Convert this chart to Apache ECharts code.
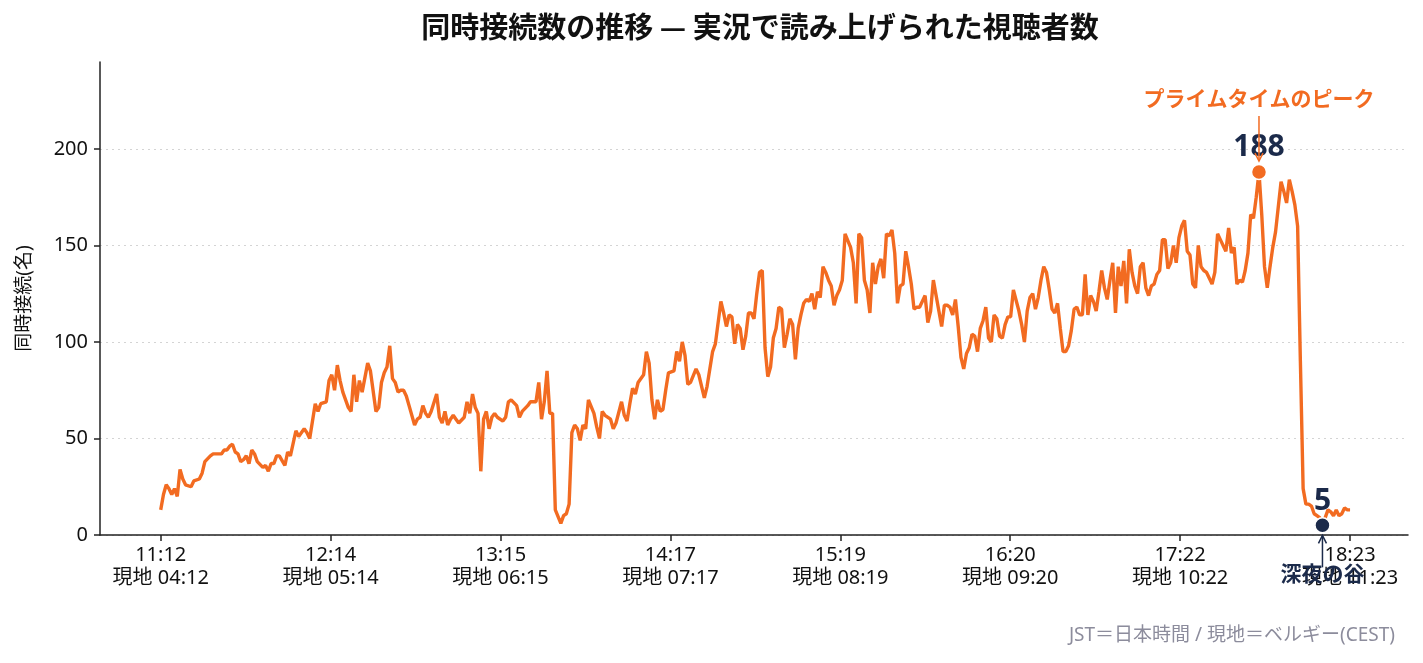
<!DOCTYPE html>
<html style="height: 100%">
<head>
<meta charset="utf-8">
<script src="https://cdn.jsdelivr.net/npm/echarts@6/dist/echarts.min.js"></script>
</head>
<body style="height: 100%; margin: 0; background: #fff">
<div id="container" style="width: 1423px; height: 663px"></div>
<script type="text/javascript">
// elapsed minutes since 11:12 JST
var minutes = [
	0,1,2,3,4,5,6,7,8,9,
	11,12,14,15,16,18,19,22,23,24,
	25,26,27,28,29,30,31,32,33,34,
	35,37,38,39,40,41,42,43,45,46,
	47,49,50,52,53,54,56,57,58,60,
	61,62,63,64,65,66,68,69,70,71,
	72,73,75,76,78,79,80,81,82,83,
	84,85,86,87,88,89,90,92,93,94,
	95,96,97,98,100,101,102,103,104,105,
	106,107,108,110,111,112,113,114,115,116,
	117,118,119,120,121,122,124,125,126,127,
	129,130,131,133,134,136,137,138,139,140,
	141,142,143,145,146,147,148,149,150,151,
	152,153,154,155,157,158,159,160,161,163,
	164,165,167,168,169,170,171,172,173,175,
	176,177,178,179,180,181,182,183,184,186,
	187,188,189,190,191,192,194,195,197,198,
	200,201,203,204,205,206,207,208,209,210,
	211,212,213,214,215,216,217,218,219,220,
	221,222,223,224,225,226,227,228,229,230,
	231,232,233,234,235,236,237,238,239,240,
	241,242,243,244,245,246,247,248,250,251,
	252,253,254,255,256,257,258,259,260,261,
	262,263,264,265,266,267,268,269,270,271,
	272,273,274,275,277,278,279,280,281,282,
	283,284,285,286,287,288,289,290,291,292,
	293,294,295,296,297,298,299,300,301,302,
	303,304,305,306,307,308,309,311,312,313,
	314,315,316,317,318,319,320,321,322,323,
	324,325,326,327,328,329,330,331,332,333,
	334,335,336,337,338,339,340,341,342,343,
	344,345,346,347,348,349,350,351,352,353,
	354,355,356,357,358,359,360,361,362,363,
	364,365,366,367,368,369,370,371,372,373,
	374,375,376,377,378,379,380,381,382,383,
	384,385,386,387,388,389,390,391,392,393,
	394,395,396,397,398,399,400,401,402,403,
	404,405,406,407,408,409,410,411,412,413,
	414,415,416,417,418,419,420,421,422,423,
	424,425,426,427,428,429,430,431
];
// concurrent viewers
var viewers = [
	13,21,26,24,21,24,20,34,29,26,
	25,28,29,32,38,41,42,42,44,44,
	46,47,43,42,38,39,41,37,44,42,
	38,35,36,33,37,37,41,41,36,43,
	41,54,51,55,53,50,68,64,68,69,
	80,83,75,88,80,74,66,64,83,69,
	80,74,89,85,64,66,79,84,87,98,
	81,79,74,75,75,72,67,57,60,61,
	67,63,61,64,73,61,58,64,57,60,
	62,60,58,61,69,63,73,66,63,33,
	60,64,55,61,63,61,59,61,69,70,
	67,61,64,67,69,69,79,60,69,85,
	63,63,13,6,10,11,16,53,57,55,
	49,57,55,70,63,56,50,64,62,60,
	55,58,69,62,59,68,76,73,79,83,
	95,89,70,60,70,64,65,75,84,85,
	95,90,100,93,78,79,86,83,71,77,
	95,99,121,115,108,114,113,99,109,107,
	96,103,115,115,112,125,136,137,97,82,
	87,102,107,118,117,97,104,112,109,91,
	107,114,120,122,121,125,117,126,123,139,
	136,132,129,119,124,127,132,156,149,141,
	120,156,154,132,127,115,141,130,139,143,
	133,156,155,158,146,120,129,130,147,139,
	130,117,118,118,124,110,116,132,124,116,
	108,119,119,118,114,122,108,92,86,94,
	97,104,103,95,107,111,118,102,100,114,
	112,103,102,109,113,113,127,116,109,100,
	116,123,125,117,123,132,139,136,127,117,
	115,120,107,95,95,98,106,117,118,114,
	114,135,114,124,121,116,126,137,128,122,
	132,141,115,139,129,142,120,148,136,129,
	125,139,141,128,124,129,130,135,137,153,
	153,138,141,150,141,154,160,163,147,145,
	130,128,150,139,137,136,133,130,136,156,
	153,150,147,159,146,149,130,132,131,137,
	146,166,164,175,188,166,139,128,139,149,
	157,170,183,178,172,184,178,171,160,90,
	24,16,16,15,11,10,9,5,9,13,
	12,10,13,10,11,14,13,13
];
var tickMinutes = [0, 61.57, 123.14, 184.71, 246.29, 307.86, 369.43, 431];
var jstLabels = ['11:12', '12:14', '13:15', '14:17', '15:19', '16:20', '17:22', '18:23'];
var localLabels = ['04:12', '05:14', '06:15', '07:17', '08:19', '09:20', '10:22', '11:23'];
var yTicks = [0, 50, 100, 150, 200];
var peakPoint = [398, 188];
var valleyPoint = [421, 5];

var ORANGE = '#F26B21';
var NAVY = '#1B2A4A';
var FONT = '"Noto Sans CJK JP", "Noto Sans", sans-serif';
var FONT_LATIN = '"Noto Sans", "Noto Sans CJK JP", sans-serif';

var dom = document.getElementById("container");
var myChart = echarts.init(dom);

var option = {
	backgroundColor: '#ffffff',
	animation: false,
	textStyle: { fontFamily: FONT_LATIN },
	title: {
		text: '同時接続数の推移 — 実況で読み上げられた視聴者数',
		left: 755,
		top: 7,
		textAlign: 'center',
		textStyle: { fontSize: 29, fontWeight: 'bold', color: '#111', fontFamily: FONT }
	},
	grid: { left: 100, right: 15, top: 62, bottom: 128 },
	xAxis: {
		type: 'value',
		min: -22,
		max: 452,
		splitLine: { show: false },
		axisLine: { show: true, lineStyle: { color: '#222', width: 1.5 } },
		axisTick: { show: true, customValues: tickMinutes, length: 6, lineStyle: { color: '#222', width: 1.5 } },
		axisLabel: {
			customValues: tickMinutes,
			color: '#111',
			fontSize: 20,
			lineHeight: 23,
			margin: 9,
			fontFamily: FONT_LATIN,
			formatter: function (v) {
				var best = 0;
				for (var k = 1; k < tickMinutes.length; k++) {
					if (Math.abs(tickMinutes[k] - v) < Math.abs(tickMinutes[best] - v)) best = k;
				}
				return jstLabels[best] + '\n現地 ' + localLabels[best];
			}
		}
	},
	yAxis: {
		type: 'value',
		min: 0,
		max: 245,
		name: '同時接続(名)',
		nameLocation: 'middle',
		nameGap: 66,
		nameTextStyle: { fontSize: 19, color: '#111', fontFamily: FONT_LATIN },
		axisLine: { show: true, onZero: false, lineStyle: { color: '#222', width: 1.5 } },
		axisTick: { show: true, customValues: yTicks, length: 6, lineStyle: { color: '#222', width: 1.5 } },
		axisLabel: { customValues: yTicks, color: '#111', fontSize: 20, margin: 12, fontFamily: FONT_LATIN },
		splitLine: { show: true, lineStyle: { type: [2, 4], color: '#d4d4d4', width: 1.2 } }
	},
	series: [{
		type: 'line',
		symbol: 'none',
		z: 2,
		lineStyle: { color: ORANGE, width: 3.4 },
		data: minutes.map(function (m, i) { return [m, viewers[i]]; })
	}, {
		type: 'scatter',
		z: 4,
		symbolSize: 15,
		itemStyle: { borderColor: '#fff', borderWidth: 1.5, opacity: 1 },
		label: {
			show: true,
			position: 'top',
			distance: 1,
			fontSize: 30,
			fontWeight: 'bold',
			color: NAVY,
			fontFamily: FONT_LATIN,
			formatter: function (p) { return p.value[1]; }
		},
		data: [
			{ value: peakPoint, itemStyle: { color: ORANGE } },
			{ value: valleyPoint, itemStyle: { color: NAVY } }
		]
	}]
};
myChart.setOption(option, true);

var p = myChart.convertToPixel({ gridIndex: 0 }, peakPoint);
var v = myChart.convertToPixel({ gridIndex: 0 }, valleyPoint);
myChart.setOption({
	graphic: [{
		type: 'text', z: 20, x: p[0], y: p[1] - 74,
		style: { text: 'プライムタイムのピーク', fill: ORANGE, font: 'bold 21px ' + FONT, align: 'center', verticalAlign: 'middle' }
	}, {
		type: 'line', z: 20,
		shape: { x1: p[0], y1: p[1] - 56, x2: p[0], y2: p[1] - 11 },
		style: { stroke: ORANGE, lineWidth: 1.5 }
	}, {
		type: 'polyline', z: 20,
		shape: { points: [[p[0] - 4, p[1] - 19], [p[0], p[1] - 11], [p[0] + 4, p[1] - 19]] },
		style: { stroke: ORANGE, lineWidth: 1.5, fill: null }
	}, {
		type: 'line', z: 20,
		shape: { x1: v[0], y1: v[1] + 42, x2: v[0], y2: v[1] + 10 },
		style: { stroke: NAVY, lineWidth: 1.5 }
	}, {
		type: 'polyline', z: 20,
		shape: { points: [[v[0] - 4, v[1] + 18], [v[0], v[1] + 10], [v[0] + 4, v[1] + 18]] },
		style: { stroke: NAVY, lineWidth: 1.5, fill: null }
	}, {
		type: 'text', z: 20, x: v[0], y: v[1] + 48,
		style: { text: '深夜の谷', fill: NAVY, font: 'bold 21px ' + FONT, align: 'center', verticalAlign: 'middle' }
	}, {
		type: 'text', z: 20, x: 1395, y: 636,
		style: { text: 'JST＝日本時間 / 現地＝ベルギー(CEST)', fill: '#8c8c9c', font: '19px ' + FONT_LATIN, align: 'right', verticalAlign: 'middle' }
	}]
});
</script>
</body>
</html>
